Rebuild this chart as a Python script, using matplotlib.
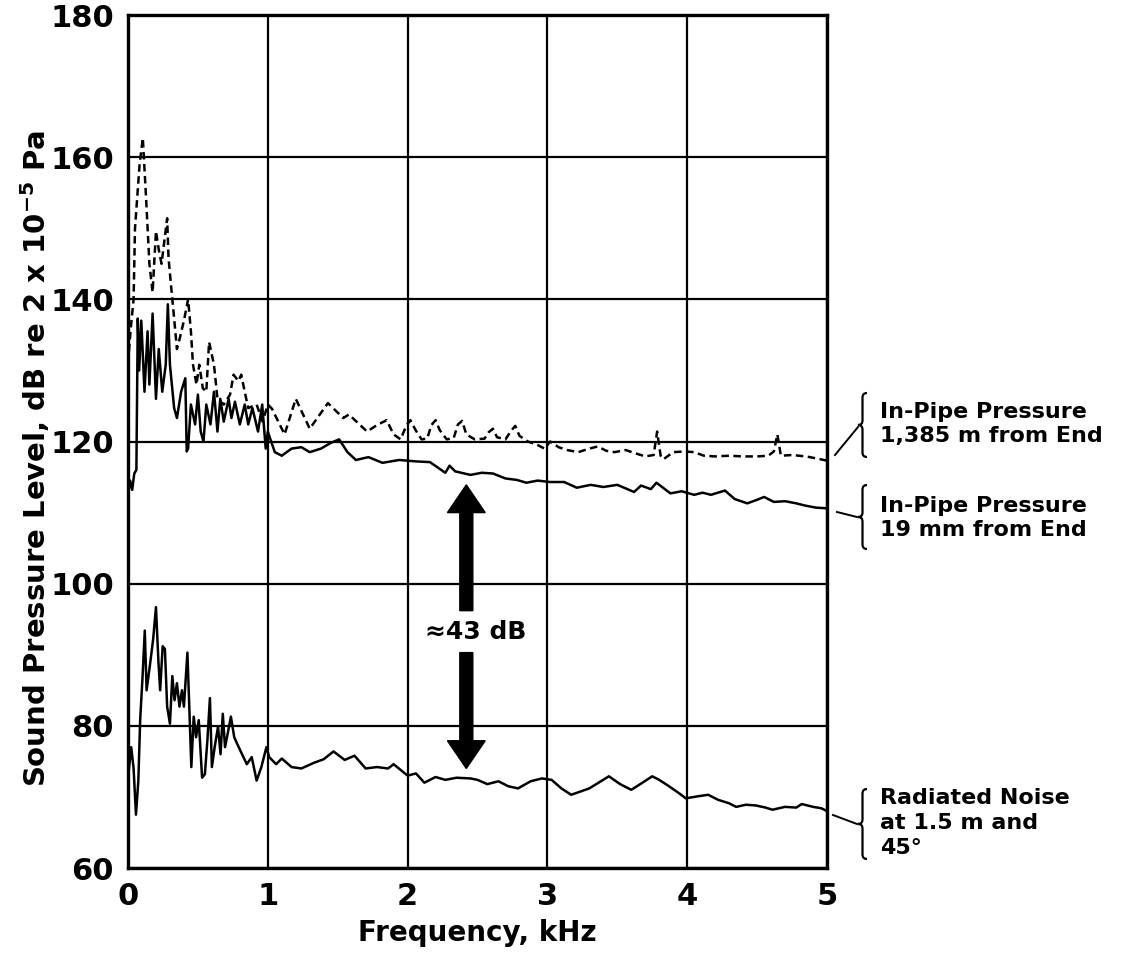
import matplotlib
matplotlib.use("Agg")
import matplotlib.pyplot as plt
from matplotlib.lines import Line2D
from matplotlib.path import Path
from matplotlib.patches import PathPatch

# In-pipe pressure 1.385 m from end (dashed)
far_f = [0, 0.02, 0.04, 0.05, 0.083, 0.106, 0.13, 0.153, 0.176, 0.2, 0.22, 0.24, 0.28, 0.29,
         0.31, 0.33, 0.35, 0.37, 0.40, 0.43, 0.45, 0.465, 0.49, 0.51, 0.535, 0.56, 0.58, 0.615,
         0.64, 0.685, 0.73, 0.755, 0.79, 0.81, 0.835, 0.86, 0.92, 0.963, 1.0, 1.03, 1.12, 1.2,
         1.3, 1.43, 1.54, 1.58, 1.71, 1.78, 1.85, 1.9, 1.95, 1.99, 2.02, 2.06, 2.1, 2.14, 2.17,
         2.2, 2.23, 2.28, 2.33, 2.36, 2.39, 2.42, 2.48, 2.55, 2.58, 2.61, 2.64, 2.7, 2.74, 2.77,
         2.8, 2.86, 2.92, 2.98, 3.02, 3.08, 3.14, 3.22, 3.3, 3.36, 3.42, 3.48, 3.56, 3.62, 3.7,
         3.76, 3.785, 3.81, 3.83, 3.9, 3.98, 4.05, 4.12, 4.2, 4.3, 4.4, 4.5, 4.58, 4.62, 4.645,
         4.67, 4.75, 4.85, 4.93, 5.0]
far_db = [131, 136, 140, 150, 159, 162.7, 154, 145, 141, 149.6, 147, 145, 151.4, 145.8,
          141.5, 137.3, 133, 134.5, 137, 140, 135.5, 130.8, 128, 130.8, 127.5, 127, 134, 130.8,
          126, 125.2, 126.6, 129.4, 128.5, 129.4, 127, 124.7, 125.2, 122.8, 125.2, 124.6, 121, 126,
          121.8, 125.4, 123.3, 123.8, 121.4, 122.3, 123.0, 121.0, 120.3, 122.2, 123.0, 121.5, 120.3, 120.4, 122.3,
          123.0, 121.6, 120.3, 120.5, 122.4, 122.9, 121.0, 120.3, 120.4, 121.3, 121.8, 120.6, 120.3, 121.5, 122.2,
          120.8, 120.0, 119.6, 119.0, 120.0, 119.2, 118.8, 118.5, 119.0, 119.3, 118.7, 118.5, 118.8, 118.4, 117.9,
          118.1, 121.4, 118.0, 117.5, 118.5, 118.6, 118.5, 118.0, 117.9, 118.0, 117.9, 117.9, 118.0, 118.6, 121.0,
          118.0, 118.1, 117.9, 117.6, 117.3]

# In-pipe pressure 19 mm from end (solid)
near_f = [0, 0.015, 0.03, 0.045, 0.06, 0.07, 0.08, 0.095, 0.118, 0.14, 0.153, 0.176, 0.2, 0.22,
          0.245, 0.27, 0.285, 0.3, 0.33, 0.35, 0.38, 0.41, 0.42, 0.43, 0.45, 0.48, 0.5, 0.52,
          0.54, 0.56, 0.59, 0.615, 0.64, 0.66, 0.685, 0.72, 0.74, 0.765, 0.8, 0.835, 0.86, 0.89,
          0.93, 0.96, 0.985, 1.0, 1.05, 1.1, 1.17, 1.24, 1.3, 1.38, 1.45, 1.51, 1.57, 1.63, 1.72,
          1.82, 1.94, 2.06, 2.16, 2.27, 2.3, 2.34, 2.45, 2.53, 2.61, 2.7, 2.78, 2.85, 2.93, 3.02,
          3.12, 3.21, 3.31, 3.4, 3.5, 3.56, 3.62, 3.67, 3.74, 3.78, 3.88, 3.96, 4.05, 4.11, 4.17,
          4.27, 4.34, 4.43, 4.5, 4.55, 4.62, 4.7, 4.78, 4.84, 4.92, 5.0]
near_db = [112.5, 114.5, 113.2, 115.5, 116.0, 137.3, 130, 137, 127, 135.5, 128, 138, 126, 133,
           127, 130.8, 139.3, 130.8, 124.7, 123.3, 127, 128.9, 118.6, 119, 125.2, 122.4, 126.6, 121.4,
           120, 125.2, 122.4, 127, 121.4, 126, 122.8, 126, 123.3, 125.6, 122.4, 125.2, 122.4, 124.7,
           121.4, 125.2, 119, 121.4, 118.5, 118.0, 119.0, 119.2, 118.5, 119.0, 119.8, 120.3, 118.5, 117.4, 117.8,
           117.0, 117.4, 117.2, 117.1, 115.6, 116.6, 115.8, 115.3, 115.6, 115.5, 114.8, 114.6, 114.2, 114.5, 114.3,
           114.3, 113.5, 113.9, 113.6, 113.9, 113.4, 112.9, 113.8, 113.3, 114.2, 112.7, 113.0, 112.5, 112.8, 112.5,
           113.1, 111.9, 111.3, 111.8, 112.2, 111.5, 111.6, 111.3, 111.0, 110.7, 110.6]

# Radiated noise at 1.5 m and 45 deg (solid)
rad_f = [0, 0.023, 0.04, 0.057, 0.074, 0.087, 0.103, 0.12, 0.133, 0.156, 0.18, 0.2, 0.218, 0.23,
         0.248, 0.264, 0.28, 0.3, 0.317, 0.333, 0.35, 0.368, 0.386, 0.4, 0.425, 0.44, 0.453, 0.47,
         0.487, 0.506, 0.53, 0.55, 0.568, 0.586, 0.6, 0.62, 0.644, 0.662, 0.678, 0.694, 0.713, 0.736,
         0.76, 0.78, 0.816, 0.85, 0.885, 0.92, 0.954, 0.99, 1.01, 1.06, 1.1, 1.17, 1.24, 1.33, 1.4,
         1.47, 1.55, 1.62, 1.7, 1.78, 1.86, 1.9, 2.0, 2.06, 2.12, 2.2, 2.27, 2.35, 2.45, 2.5, 2.57,
         2.65, 2.72, 2.79, 2.88, 2.96, 3.03, 3.1, 3.17, 3.3, 3.44, 3.52, 3.6, 3.68, 3.75, 3.8, 3.87,
         3.95, 3.99, 4.08, 4.15, 4.22, 4.3, 4.35, 4.42, 4.49, 4.56, 4.61, 4.7, 4.78, 4.82, 4.9, 4.96, 5.0]
rad_db = [72.7, 77, 74, 67.5, 72.3, 80.8, 86.5, 93.4, 85, 88.4, 92.2, 96.7, 88.9, 85,
          91.2, 90.8, 82.7, 80.3, 87, 83.6, 86, 82.7, 85, 82.7, 90.3, 81.7, 74.2, 81.3,
          78.4, 80.8, 72.7, 73.2, 78, 83.9, 74.2, 77, 79.9, 76, 81.7, 77, 78.9, 81.3,
          78.4, 77.5, 76, 74.6, 75.6, 72.3, 74.2, 77, 75.6, 74.6, 75.4, 74.2, 74.0, 74.8, 75.3,
          76.4, 75.2, 75.8, 74.0, 74.2, 74.0, 74.6, 73.0, 73.3, 72.0, 72.8, 72.4, 72.7, 72.6, 72.4, 71.8,
          72.2, 71.5, 71.2, 72.2, 72.6, 72.4, 71.2, 70.3, 71.2, 72.9, 71.8, 71.0, 72.0, 72.9, 72.4, 71.5,
          70.4, 69.8, 70.1, 70.3, 69.6, 69.1, 68.6, 68.9, 68.8, 68.5, 68.2, 68.6, 68.5, 69.0, 68.6, 68.4, 68.0]

x_ticks = [0, 1, 2, 3, 4, 5]
y_ticks = [60, 80, 100, 120, 140, 160, 180]

# double arrow showing the ~43 dB difference
arrow_x = 2.42
upper_arrow = (96.2, 113.9)
lower_arrow = (90.3, 74.0)

W, H = 1140, 957
fig = plt.figure(figsize=(W / 100, H / 100), dpi=100)
ax = fig.add_axes([128 / W, 1 - 868 / H, 699 / W, 853 / H])

ax.plot(far_f, far_db, color="black", lw=1.8, ls=(0, (3, 1.8)))
ax.plot(near_f, near_db, color="black", lw=1.8)
ax.plot(rad_f, rad_db, color="black", lw=1.8)

for y0, y1 in [upper_arrow, lower_arrow]:
    ax.arrow(arrow_x, y0, 0, y1 - y0, width=0.093, head_width=0.27, head_length=3.9,
             length_includes_head=True, color="black", zorder=4)
ax.text(2.49, 93.2, "\u224843 dB", ha="center", va="center", fontsize=18,
        fontweight="bold", zorder=5)

ax.set_xlim(0, 5)
ax.set_ylim(60, 180)
ax.set_xticks(x_ticks)
ax.set_yticks(y_ticks)
ax.grid(True, color="black", lw=1.6)
ax.tick_params(length=0, labelsize=22, pad=10)
for lab in ax.get_xticklabels() + ax.get_yticklabels():
    lab.set_fontweight("bold")
for sp in ax.spines.values():
    sp.set_linewidth(2.4)

ax.set_xlabel("Frequency, kHz", fontsize=20, fontweight="bold", labelpad=6)
ax.set_ylabel("Sound Pressure Level, dB re 2 x 10$^{\\mathbf{-5}}$ Pa", fontsize=21,
              fontweight="bold")
ax.yaxis.set_label_coords(-0.109, 0.48)


def px(x, y):
    return x / W, 1 - y / H


def brace(x_tip, y_top, y_bot, w=9):
    ym = (y_top + y_bot) / 2
    r = w / 2
    xm = x_tip + w / 2
    verts = [(x_tip + w, y_top), (xm, y_top), (xm, y_top + r), (xm, ym - r),
             (xm, ym), (x_tip, ym), (xm, ym), (xm, ym + r), (xm, y_bot - r),
             (xm, y_bot), (x_tip + w, y_bot)]
    codes = [Path.MOVETO, Path.CURVE3, Path.CURVE3, Path.LINETO,
             Path.CURVE3, Path.CURVE3, Path.CURVE3, Path.CURVE3, Path.LINETO,
             Path.CURVE3, Path.CURVE3]
    path = Path([px(*v) for v in verts], codes)
    fig.add_artist(PathPatch(path, fill=False, lw=1.6, color="black",
                             transform=fig.transFigure))


# right-hand labels: text, centre y, brace span, leader line (pixel positions)
labels = [
    ("In-Pipe Pressure\n1,385 m from End", 424, (393, 457), [(835, 455), (858, 427)]),
    ("In-Pipe Pressure\n19 mm from End", 518, (485, 549), [(837, 512), (857, 517)]),
    ("Radiated Noise\nat 1.5 m and\n45\u00b0", 823, (789, 859), [(833, 815), (857, 824)]),
]
for txt, yc, (yt, yb), pts in labels:
    fig.text(880 / W, 1 - yc / H, txt, ha="left", va="center", fontsize=16,
             fontweight="bold", linespacing=1.3)
    brace(858, yt, yb)
    (xa, ya), (xb, yb2) = pts
    fig.add_artist(Line2D([xa / W, xb / W], [1 - ya / H, 1 - yb2 / H],
                          transform=fig.transFigure, color="black", lw=1.4))

fig.savefig("out.png", dpi=100)
